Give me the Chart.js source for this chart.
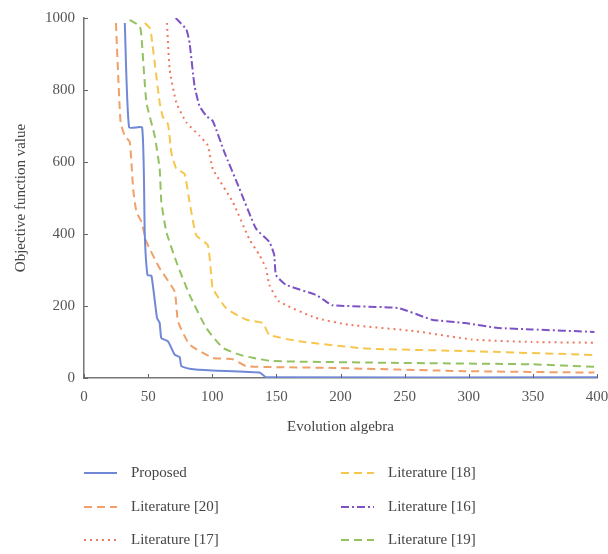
<!DOCTYPE html>
<html>
<head>
<meta charset="utf-8">
<script src="https://cdn.jsdelivr.net/npm/chart.js@4"></script>
<style>
  html, body { margin: 0; padding: 0; background: #fff; }
  #wrap { width: 608px; height: 554px; }
</style>
</head>
<body>
<div id="wrap"><canvas id="chart" width="608" height="554"></canvas></div>
<script>
// values (x = evolution algebra, y = objective function value)
const proposedX = [31.8, 35.2, 45.3, 47.4, 49.5, 52.6, 56.9, 59, 60.3, 65.5, 70.7, 74.6, 75.9, 82.3, 100, 137, 142, 400]
const proposedY = [986, 696, 696, 398, 286, 284, 167, 153, 111, 102, 65, 58, 33, 26, 21, 15, 2, 2]

const lit20X = [24.9, 28.5, 31.8, 35.7, 38.3, 40.9, 44.8, 48.7, 59, 70.7, 73.3, 82.3, 100.4, 116, 126.4, 152, 194, 297, 398]
const lit20Y = [986, 710, 673, 655, 526, 461, 434, 378, 305, 240, 157, 93, 56, 52, 33, 30, 28, 19, 15]

const lit17X = [64.7, 66.8, 72, 79.8, 90, 96.5, 100.4, 116, 129, 136.7, 141.9, 144.5, 152, 180.7, 206.6, 258.4, 302.4, 349, 398]
const lit17Y = [986, 857, 765, 710, 673, 646, 581, 489, 385, 342, 305, 259, 213, 167, 148, 130, 107, 100, 98]

const lit18X = [47.4, 51.3, 52.6, 59, 61.6, 65.5, 68.1, 72, 78.4, 82.3, 87.5, 96.5, 99.2, 100.4, 110.8, 126.4, 139.3, 144.5, 167.8, 219.6, 297, 398]
const lit18Y = [986, 972, 949, 765, 724, 705, 627, 581, 567, 489, 397, 369, 286, 249, 194, 162, 153, 120, 102, 82, 75, 64]

const lit16X = [71.5, 79.8, 82.3, 86.2, 90, 95.3, 100.4, 109.5, 121.2, 134.1, 144.5, 148.3, 149.7, 157.4, 180.7, 188.5, 193.6, 245.4, 271.3, 297, 323, 349, 398]
const lit16Y = [1000, 968, 931, 811, 756, 728, 714, 627, 526, 415, 378, 342, 286, 259, 231, 213, 202, 194, 162, 153, 139, 135, 128]

const lit19X = [35.7, 43.5, 44.8, 48.7, 55.1, 59, 60.3, 64.2, 72, 82.3, 95.3, 108.2, 121.2, 131.5, 147, 245, 349, 398]
const lit19Y = [995, 977, 949, 765, 673, 581, 489, 406, 323, 231, 139, 84, 65, 56, 47, 42, 38, 31]

const seriesNames = ['Proposed', 'Literature [20]', 'Literature [17]', 'Literature [18]', 'Literature [16]', 'Literature [19]']
const xTicks = [0, 50, 100, 150, 200, 250, 300, 350, 400]
const yTicks = [0, 200, 400, 600, 800, 1000]

const serif = "'Liberation Serif', 'DejaVu Serif', serif"

function pts(xs, ys) {
  return xs.map((x, i) => ({ x: x, y: ys[i] }))
}

function line(label, xs, ys, color, dash) {
  return {
    label: label,
    data: pts(xs, ys),
    borderColor: color,
    backgroundColor: color,
    borderWidth: 2,
    borderDash: dash,
    pointRadius: 0,
    tension: 0.15,
    fill: false
  }
}

const datasets = [
  line(seriesNames[0], proposedX, proposedY, '#7088d6', []),
  line(seriesNames[1], lit20X, lit20Y, '#f0a068', [8, 5]),
  line(seriesNames[2], lit17X, lit17Y, '#ee7a60', [2, 4]),
  line(seriesNames[3], lit18X, lit18Y, '#f6c74e', [8, 5]),
  line(seriesNames[4], lit16X, lit16Y, '#7c52c4', [8, 3, 2, 3]),
  line(seriesNames[5], lit19X, lit19Y, '#94c262', [8, 5])
]

// short inward tick marks, like the original
const innerTicks = {
  id: 'innerTicks',
  afterDatasetsDraw(chart) {
    const { ctx, chartArea, scales } = chart
    ctx.save()
    ctx.strokeStyle = '#666'
    ctx.lineWidth = 1
    ctx.beginPath()
    xTicks.forEach(v => {
      const px = Math.round(scales.x.getPixelForValue(v)) + 0.5
      ctx.moveTo(px, chartArea.bottom)
      ctx.lineTo(px, chartArea.bottom - 4)
    })
    yTicks.forEach(v => {
      const py = Math.round(scales.y.getPixelForValue(v)) + 0.5
      ctx.moveTo(chartArea.left, py)
      ctx.lineTo(chartArea.left + 4, py)
    })
    ctx.stroke()
    ctx.restore()
  }
}

// two-column legend under the axis title
const sideLegend = {
  id: 'sideLegend',
  afterDraw(chart) {
    const ctx = chart.ctx
    const colX = [84, 341]
    const rowY = [473, 507, 540]
    ctx.save()
    chart.data.datasets.forEach((ds, i) => {
      const col = Math.floor(i / 3)
      const row = i % 3
      const x = colX[col]
      const y = rowY[row]
      ctx.strokeStyle = ds.borderColor
      ctx.lineWidth = 2
      ctx.setLineDash(ds.borderDash)
      ctx.beginPath()
      ctx.moveTo(x, y)
      ctx.lineTo(x + 33, y)
      ctx.stroke()
      ctx.setLineDash([])
      ctx.fillStyle = '#444'
      ctx.font = '15px ' + serif
      ctx.textBaseline = 'middle'
      ctx.textAlign = 'left'
      ctx.fillText(ds.label, x + 47, y)
    })
    ctx.restore()
  }
}

const ctx = document.getElementById('chart')

const config = {
  type: 'line',
  data: { datasets: datasets },
  plugins: [innerTicks, sideLegend],
  options: {
    responsive: false,
    animation: false,
    layout: {
      padding: { left: 0, top: 11, right: 0, bottom: 114 }
    },
    scales: {
      x: {
        type: 'linear',
        min: 0,
        max: 400,
        afterBuildTicks: (scale) => { scale.ticks = xTicks.map(v => ({ value: v })) },
        afterFit: (scale) => { scale.paddingRight = 11 },
        ticks: {
          padding: 10,
          color: '#555',
          font: { family: serif, size: 15 },
          maxRotation: 0
        },
        grid: { display: true, drawOnChartArea: false, drawTicks: false },
        border: { display: true, color: '#777', width: 1.5 },
        title: {
          display: true,
          text: 'Evolution algebra',
          color: '#444',
          font: { family: serif, size: 15 },
          padding: { top: 2, bottom: 4 }
        }
      },
      y: {
        type: 'linear',
        min: 0,
        max: 1000,
        afterBuildTicks: (scale) => { scale.ticks = yTicks.map(v => ({ value: v })) },
        afterFit: (scale) => { scale.width = 84 },
        ticks: {
          padding: 9,
          color: '#555',
          font: { family: serif, size: 15 },
          callback: (v) => String(v)
        },
        grid: { display: true, drawOnChartArea: false, drawTicks: false },
        border: { display: true, color: '#777', width: 1.5 },
        title: {
          display: true,
          text: 'Objective function value',
          color: '#444',
          font: { family: serif, size: 15 },
          padding: { top: 12, bottom: 4 }
        }
      }
    },
    plugins: {
      legend: { display: false },
      tooltip: { enabled: false }
    }
  }
}

var myChart = new Chart(ctx, config)
</script>
</body>
</html>
